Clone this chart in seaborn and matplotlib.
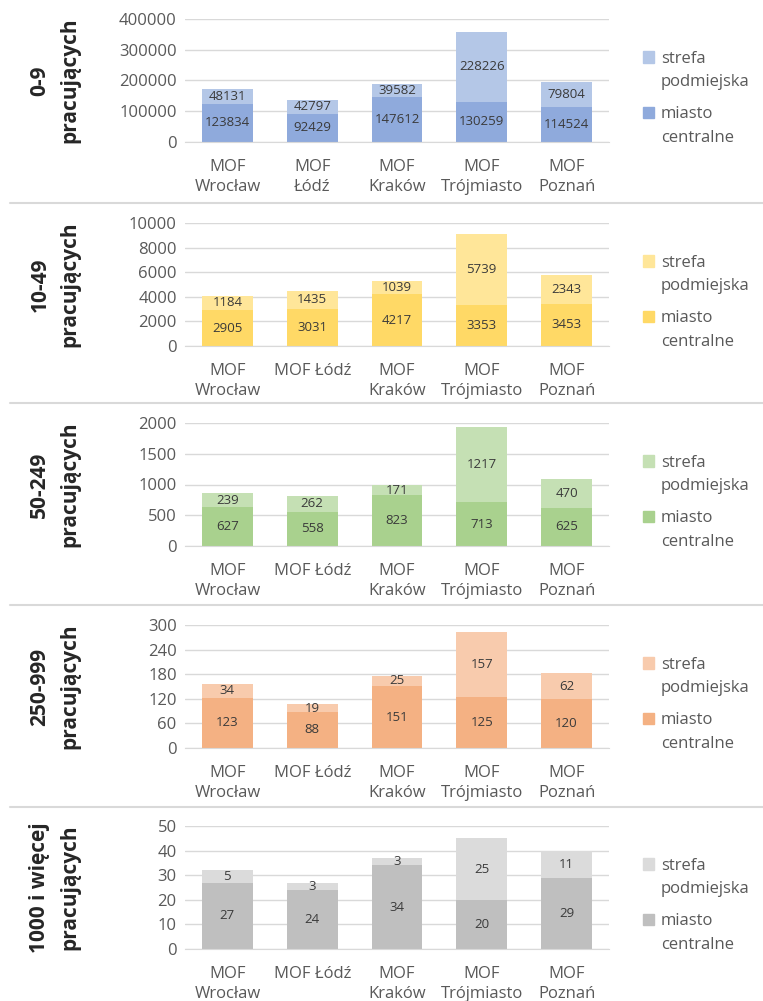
import numpy as np
import pandas as pd
import seaborn as sns
import matplotlib.pyplot as plt
from matplotlib.lines import Line2D
from matplotlib.patches import Patch

sns.set_style("white")
plt.rcParams['font.family'] = ['Open Sans', 'DejaVu Sans']

# data
mof = ["MOF Wrocław", "MOF Łódź", "MOF Kraków", "MOF Trójmiasto", "MOF Poznań"]
groups = ["0-9\npracujących", "10-49\npracujących", "50-249\npracujących",
          "250-999\npracujących", "1000 i więcej\npracujących"]

central_0_9 = [123834, 92429, 147612, 130259, 114524]
suburb_0_9 = [48131, 42797, 39582, 228226, 79804]
central_10_49 = [2905, 3031, 4217, 3353, 3453]
suburb_10_49 = [1184, 1435, 1039, 5739, 2343]
central_50_249 = [627, 558, 823, 713, 625]
suburb_50_249 = [239, 262, 171, 1217, 470]
central_250_999 = [123, 88, 151, 125, 120]
suburb_250_999 = [34, 19, 25, 157, 62]
central_1000 = [27, 24, 34, 20, 29]
suburb_1000 = [5, 3, 3, 25, 11]

centrals = [central_0_9, central_10_49, central_50_249, central_250_999, central_1000]
suburbs = [suburb_0_9, suburb_10_49, suburb_50_249, suburb_250_999, suburb_1000]
y_max = [400000, 10000, 2000, 300, 50]
y_step = [100000, 2000, 500, 60, 10]

dark_cols = ["#8FAADC", "#FFD966", "#A9D18E", "#F4B183", "#BFBFBF"]
light_cols = ["#B4C7E7", "#FFE699", "#C5E0B4", "#F8CBAD", "#DBDBDB"]

fig = plt.figure(figsize=(7.63, 10.01), dpi=100)
W, H = 763, 1001
zero_px = [142, 346, 546, 748, 949]
ax_h = 123

for i in range(5):
    bottom = 1 - zero_px[i] / H
    ax = fig.add_axes([185 / W, bottom, 424 / W, ax_h / H])
    df = pd.DataFrame({"mof": mof, "central": centrals[i], "suburb": suburbs[i]})

    sns.barplot(data=df, x="mof", y="central", color=dark_cols[i], width=0.6,
                saturation=1, linewidth=0, ax=ax, zorder=2)
    ax.bar(np.arange(len(mof)), df["suburb"], bottom=df["central"], width=0.6,
           color=light_cols[i], linewidth=0, zorder=2)

    for c in ax.containers:
        ax.bar_label(c, label_type='center', fontsize=9.5, color="#3A3A3A")

    ax.set_ylim(0, y_max[i])
    ax.set_yticks(np.arange(0, y_max[i] + 1, y_step[i]))
    ax.yaxis.grid(True, color="#D9D9D9", lw=1, zorder=0)
    ax.set_axisbelow(True)
    for s in ["left", "right", "top"]:
        ax.spines[s].set_visible(False)
    ax.spines["bottom"].set_color("#D9D9D9")
    ax.set_xlim(-0.5, 4.5)

    if i == 0:
        xl = [m.replace(" ", "\n") for m in mof]
    else:
        xl = [m.replace(" ", "\n") if m != "MOF Łódź" else m for m in mof]
    ax.set_xticks(range(len(mof)))
    ax.set_xticklabels(xl, fontsize=12, color="#595959", linespacing=1.35)
    ax.tick_params(axis='x', length=0, pad=12)
    ax.tick_params(axis='y', length=0, labelsize=12, labelcolor="#595959", pad=6)
    ax.set_xlabel("")
    ax.set_ylabel(groups[i], fontsize=15, fontweight='bold', color="#262626",
                  linespacing=1.55, va='center')
    ax.yaxis.set_label_coords(-0.307, 0.5)

    # two legend blocks, square next to the first line of each label
    blank = Patch(color='none')
    leg_kw = dict(loc='center left', frameon=False, fontsize=12, labelcolor="#595959",
                  handlelength=0.7, handleheight=0.7, handletextpad=0.4,
                  labelspacing=0.45, borderpad=0)
    leg1 = ax.legend([Patch(color=light_cols[i]), blank], ["strefa", "podmiejska"],
                     bbox_to_anchor=(1.06, 0.58), **leg_kw)
    ax.add_artist(leg1)
    ax.legend([Patch(color=dark_cols[i]), blank], ["miasto", "centralne"],
              bbox_to_anchor=(1.06, 0.13), **leg_kw)

# separator lines between panels
for y in [203, 403, 605, 807]:
    fig.add_artist(Line2D([10 / W, 1], [1 - y / H, 1 - y / H], color="#D9D9D9", lw=1.5))

plt.savefig("out.png", dpi=100, facecolor="white")
